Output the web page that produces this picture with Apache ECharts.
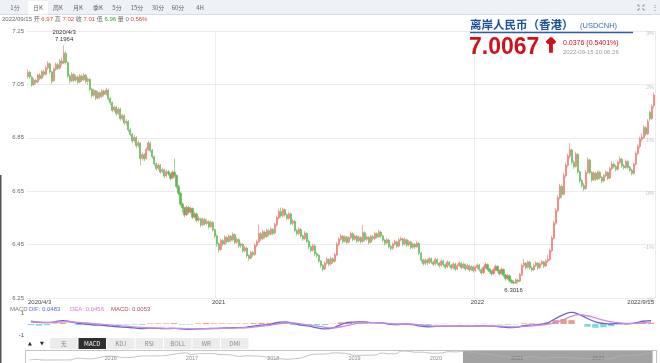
<!DOCTYPE html>
<html><head><meta charset="utf-8">
<script src="https://cdn.jsdelivr.net/npm/echarts@6/dist/echarts.min.js"></script>
<style>html,body{margin:0;padding:0;background:#fff}#c{width:660px;height:363px}</style>
</head><body><div id="c"></div>
<script>
// ---- candles (one per 2 trading days), [open, close, low, high] ----
const k2020 = [
[7.080,7.095,7.071,7.106],[7.096,7.078,7.070,7.101],[7.077,7.048,7.041,7.083],[7.050,7.066,7.043,7.074],[7.065,7.058,7.050,7.072],
[7.059,7.085,7.054,7.091],[7.084,7.072,7.066,7.093],[7.073,7.098,7.068,7.104],[7.097,7.087,7.079,7.105],[7.088,7.112,7.083,7.120],
[7.111,7.128,7.104,7.138],[7.127,7.096,7.090,7.133],[7.097,7.062,7.052,7.101],[7.064,7.108,7.060,7.115],[7.107,7.125,7.100,7.133],
[7.124,7.110,7.103,7.131],[7.111,7.138,7.106,7.146],[7.137,7.129,7.120,7.150],[7.130,7.168,7.126,7.1964],[7.166,7.132,7.124,7.174],
[7.131,7.081,7.073,7.136],[7.082,7.063,7.052,7.090],[7.064,7.088,7.058,7.096],[7.087,7.065,7.057,7.093],[7.066,7.079,7.060,7.087],
[7.078,7.058,7.050,7.084],[7.059,7.082,7.054,7.089],[7.081,7.066,7.059,7.087],[7.067,7.085,7.062,7.093],[7.084,7.061,7.053,7.089],
[7.062,7.070,7.048,7.077],[7.069,7.031,7.024,7.073],[7.032,7.008,6.999,7.037],[7.009,7.027,7.003,7.034],[7.026,6.998,6.991,7.030],
[6.999,7.020,6.994,7.027],[7.019,7.004,6.996,7.024],[7.005,7.026,7.000,7.033],[7.025,7.012,7.005,7.031],[7.013,7.030,7.008,7.038],
[7.029,6.996,6.989,7.034],[6.997,6.981,6.972,7.003],[6.982,6.952,6.945,6.986],[6.953,6.965,6.946,6.972],[6.964,6.940,6.932,6.969],
[6.941,6.958,6.936,6.965],[6.957,6.921,6.914,6.962],[6.922,6.934,6.915,6.941],[6.933,6.905,6.898,6.938],[6.906,6.912,6.896,6.920],
[6.911,6.879,6.872,6.916],[6.880,6.862,6.855,6.886],[6.863,6.838,6.830,6.868],[6.839,6.852,6.833,6.860],[6.851,6.820,6.812,6.856],
[6.821,6.831,6.813,6.839],[6.830,6.772,6.746,6.834],[6.773,6.788,6.764,6.795],[6.787,6.771,6.762,6.793],[6.772,6.806,6.768,6.814],
[6.805,6.831,6.799,6.840],[6.830,6.802,6.794,6.836],[6.803,6.779,6.771,6.808],[6.780,6.752,6.745,6.784],[6.753,6.735,6.727,6.758],
[6.736,6.748,6.729,6.755],[6.747,6.722,6.715,6.752],[6.723,6.731,6.716,6.739],[6.730,6.706,6.699,6.735],[6.707,6.724,6.701,6.731],
[6.723,6.714,6.706,6.730],[6.715,6.698,6.690,6.719],[6.699,6.722,6.694,6.729],[6.721,6.708,6.700,6.772],[6.709,6.668,6.660,6.713],
[6.669,6.642,6.634,6.674],[6.643,6.601,6.593,6.648],[6.602,6.587,6.570,6.609],[6.588,6.561,6.553,6.592],[6.562,6.590,6.557,6.597],
[6.589,6.571,6.563,6.594],[6.572,6.586,6.566,6.593],[6.585,6.552,6.545,6.589],[6.553,6.566,6.547,6.573],[6.565,6.541,6.534,6.570],
[6.542,6.548,6.535,6.556],[6.547,6.523,6.516,6.551],[6.524,6.545,6.519,6.552],[6.544,6.528,6.521,6.549],[6.529,6.537,6.522,6.545],
[6.536,6.516,6.508,6.541],[6.517,6.534,6.511,6.541],[6.533,6.505,6.498,6.538],[6.506,6.482,6.474,6.510],[6.483,6.452,6.441,6.488]
];
const k2021 = [
[6.453,6.431,6.420,6.459],[6.432,6.466,6.427,6.472],[6.465,6.452,6.445,6.471],[6.453,6.478,6.448,6.485],[6.477,6.461,6.454,6.482],
[6.462,6.482,6.457,6.489],[6.481,6.466,6.459,6.486],[6.467,6.489,6.462,6.496],[6.488,6.458,6.451,6.492],[6.459,6.470,6.452,6.477],
[6.469,6.445,6.438,6.474],[6.446,6.452,6.437,6.459],[6.451,6.426,6.419,6.456],[6.427,6.438,6.420,6.445],[6.437,6.408,6.400,6.442],
[6.409,6.398,6.389,6.414],[6.399,6.421,6.394,6.428],[6.420,6.412,6.404,6.426],[6.413,6.448,6.408,6.455],[6.447,6.461,6.440,6.469],
[6.460,6.492,6.455,6.526],[6.491,6.471,6.464,6.497],[6.472,6.498,6.467,6.505],[6.497,6.479,6.472,6.502],[6.480,6.503,6.475,6.510],
[6.502,6.488,6.481,6.508],[6.489,6.508,6.484,6.515],[6.507,6.492,6.485,6.512],[6.493,6.525,6.488,6.532],[6.524,6.551,6.518,6.559],
[6.550,6.575,6.544,6.584],[6.574,6.558,6.551,6.589],[6.559,6.582,6.553,6.588],[6.581,6.561,6.554,6.585],[6.562,6.548,6.541,6.567],
[6.549,6.566,6.543,6.573],[6.565,6.529,6.522,6.570],[6.530,6.538,6.521,6.545],[6.537,6.502,6.495,6.542],[6.503,6.491,6.483,6.508],
[6.492,6.508,6.486,6.515],[6.507,6.482,6.475,6.512],[6.483,6.471,6.464,6.488],[6.472,6.493,6.466,6.500],[6.492,6.462,6.455,6.496],
[6.463,6.441,6.433,6.468],[6.442,6.428,6.420,6.447],[6.429,6.446,6.424,6.453],[6.445,6.415,6.408,6.450],[6.416,6.409,6.400,6.422],
[6.410,6.388,6.381,6.414],[6.389,6.372,6.364,6.393],[6.373,6.358,6.350,6.377],[6.359,6.381,6.354,6.388],[6.380,6.395,6.374,6.402],
[6.394,6.376,6.369,6.399],[6.377,6.398,6.372,6.405],[6.397,6.386,6.379,6.402],[6.387,6.412,6.382,6.419],[6.411,6.452,6.406,6.459],
[6.451,6.471,6.445,6.478],[6.470,6.482,6.464,6.490],[6.481,6.461,6.454,6.486],[6.462,6.479,6.457,6.485],[6.478,6.458,6.451,6.483],
[6.459,6.476,6.454,6.482],[6.475,6.492,6.470,6.499],[6.491,6.469,6.462,6.496],[6.470,6.482,6.464,6.488],[6.481,6.463,6.456,6.486],
[6.464,6.478,6.459,6.484],[6.477,6.461,6.454,6.481],[6.462,6.495,6.457,6.524],[6.494,6.469,6.462,6.499],[6.470,6.478,6.463,6.485],
[6.477,6.458,6.451,6.482],[6.459,6.481,6.454,6.487],[6.480,6.472,6.465,6.486],[6.473,6.492,6.468,6.498],[6.491,6.478,6.471,6.496],
[6.479,6.498,6.474,6.505],[6.497,6.482,6.475,6.503],[6.483,6.466,6.459,6.487],[6.467,6.455,6.447,6.471],[6.456,6.468,6.450,6.475],
[6.467,6.442,6.435,6.472],[6.443,6.435,6.428,6.449],[6.436,6.452,6.431,6.458],[6.451,6.461,6.446,6.468],[6.460,6.444,6.437,6.465],
[6.445,6.468,6.440,6.474],[6.467,6.472,6.461,6.480],[6.471,6.451,6.444,6.476],[6.452,6.469,6.447,6.476],[6.468,6.448,6.441,6.472],
[6.449,6.461,6.443,6.467],[6.460,6.439,6.432,6.465],[6.440,6.452,6.434,6.458],[6.451,6.441,6.434,6.456],[6.442,6.456,6.437,6.463],
[6.455,6.418,6.411,6.459],[6.419,6.392,6.384,6.423],[6.393,6.378,6.371,6.397],[6.379,6.393,6.373,6.399],[6.392,6.381,6.374,6.397],
[6.382,6.398,6.377,6.404],[6.397,6.384,6.377,6.402],[6.385,6.376,6.369,6.390],[6.377,6.395,6.372,6.401],[6.394,6.380,6.373,6.399],
[6.381,6.371,6.364,6.385],[6.372,6.389,6.367,6.395],[6.388,6.374,6.367,6.393],[6.375,6.365,6.358,6.379],[6.366,6.385,6.361,6.391],
[6.384,6.372,6.365,6.389],[6.373,6.362,6.355,6.377],[6.363,6.378,6.358,6.384],[6.377,6.358,6.351,6.382],[6.359,6.372,6.354,6.378],
[6.371,6.381,6.366,6.387],[6.380,6.363,6.356,6.385],[6.364,6.377,6.359,6.383],[6.376,6.359,6.352,6.381],[6.360,6.372,6.355,6.378],
[6.371,6.355,6.348,6.376],[6.356,6.368,6.351,6.374],[6.367,6.352,6.345,6.372],[6.353,6.365,6.348,6.371]
];
const k2022 = [
[6.364,6.374,6.358,6.380],[6.373,6.356,6.349,6.378],[6.357,6.344,6.337,6.361],[6.345,6.365,6.340,6.371],[6.364,6.376,6.359,6.383],
[6.375,6.358,6.351,6.380],[6.359,6.349,6.342,6.363],[6.350,6.341,6.334,6.355],[6.342,6.356,6.337,6.362],[6.355,6.369,6.350,6.375],
[6.368,6.352,6.345,6.373],[6.353,6.341,6.334,6.357],[6.342,6.358,6.337,6.364],[6.357,6.335,6.328,6.361],[6.336,6.322,6.315,6.340],
[6.323,6.334,6.318,6.340],[6.333,6.315,6.308,6.338],[6.316,6.309,6.303,6.321],[6.310,6.306,6.3016,6.318],[6.305,6.318,6.302,6.324],
[6.317,6.312,6.305,6.323],[6.313,6.338,6.309,6.344],[6.337,6.372,6.332,6.378],[6.371,6.381,6.364,6.396],[6.380,6.364,6.357,6.385],
[6.365,6.385,6.360,6.391],[6.384,6.362,6.355,6.389],[6.363,6.355,6.348,6.369],[6.356,6.372,6.351,6.378],[6.371,6.381,6.366,6.387],
[6.380,6.363,6.356,6.385],[6.364,6.378,6.359,6.384],[6.377,6.386,6.372,6.392],[6.385,6.369,6.362,6.390],[6.370,6.389,6.365,6.395],
[6.388,6.395,6.382,6.412],[6.394,6.428,6.390,6.435],[6.427,6.475,6.421,6.483],[6.474,6.531,6.468,6.540],[6.530,6.578,6.523,6.588],
[6.577,6.626,6.570,6.635],[6.625,6.669,6.618,6.678],[6.668,6.638,6.624,6.675],[6.639,6.709,6.634,6.718],[6.708,6.748,6.701,6.757],
[6.747,6.782,6.739,6.791],[6.781,6.805,6.772,6.830],[6.804,6.758,6.750,6.810],[6.759,6.742,6.734,6.766],[6.743,6.789,6.738,6.798],
[6.788,6.722,6.715,6.792],[6.723,6.688,6.680,6.728],[6.689,6.671,6.663,6.696],[6.672,6.659,6.651,6.680],[6.660,6.721,6.655,6.729],
[6.720,6.768,6.714,6.778],[6.767,6.719,6.711,6.772],[6.720,6.692,6.684,6.725],[6.693,6.718,6.688,6.725],[6.717,6.695,6.688,6.722],
[6.696,6.722,6.691,6.729],[6.721,6.701,6.694,6.727],[6.702,6.688,6.681,6.707],[6.689,6.709,6.684,6.715],[6.708,6.721,6.703,6.728],
[6.720,6.698,6.691,6.725],[6.699,6.735,6.694,6.742],[6.734,6.752,6.728,6.763],[6.751,6.742,6.735,6.758],[6.743,6.731,6.724,6.749],
[6.732,6.758,6.727,6.765],[6.757,6.771,6.751,6.780],[6.770,6.744,6.737,6.775],[6.745,6.738,6.731,6.752],[6.739,6.762,6.734,6.769],
[6.761,6.739,6.732,6.766],[6.740,6.728,6.721,6.745],[6.729,6.716,6.709,6.734],[6.717,6.752,6.712,6.758],[6.751,6.792,6.745,6.799],
[6.791,6.818,6.785,6.826],[6.817,6.846,6.810,6.854],[6.845,6.852,6.836,6.866],[6.851,6.889,6.846,6.897],[6.888,6.864,6.857,6.894],
[6.865,6.912,6.860,6.920],[6.945,6.921,6.913,6.952],[6.922,6.968,6.916,6.975],[6.97,7.01,6.96,7.02]
];
const xTickLabels = ['2020/4/3', '2021', '2022', '2022/9/15'];
const rightTickLabels = ['-2%', '-1%', '0%', '1%', '2%', '3%'];
const peakLabel = '2020/4/3\n7.1964';
const lowLabel = '6.3016';

// ---- MACD panel (read at coarser spacing) ----
const macdDIF = [0.25,0.15,0.12,0.2,0.3,0.2,0.05,0.0,-0.1,-0.12,-0.2,-0.25,-0.3,-0.35,-0.42,-0.38,-0.4,-0.42,-0.4,-0.45,
-0.48,-0.45,-0.42,-0.4,-0.38,-0.35,-0.33,-0.3,-0.2,-0.1,-0.05,0.15,0.2,0.05,-0.1,-0.2,-0.35,-0.45,-0.35,-0.05,
0.15,0.2,0.18,0.12,0.1,0.0,-0.05,0.0,-0.05,-0.2,-0.25,-0.22,-0.2,-0.2,-0.18,-0.2,-0.18,-0.17,-0.2,-0.25,
-0.32,-0.3,-0.15,-0.1,-0.05,0.1,0.5,0.85,1.05,0.85,0.5,0.2,0.05,0.0,0.05,0.02,0.1,0.25,0.3];
const macdDEA = [0.18,0.17,0.15,0.16,0.2,0.2,0.15,0.1,0.03,-0.03,-0.1,-0.15,-0.2,-0.26,-0.32,-0.35,-0.37,-0.39,-0.4,-0.41,
-0.43,-0.44,-0.43,-0.42,-0.4,-0.38,-0.36,-0.34,-0.28,-0.2,-0.12,-0.02,0.08,0.1,0.0,-0.1,-0.2,-0.3,-0.35,-0.25,
-0.1,0.05,0.1,0.12,0.1,0.05,0.0,0.0,-0.02,-0.08,-0.15,-0.2,-0.2,-0.2,-0.19,-0.19,-0.19,-0.18,-0.18,-0.2,
-0.24,-0.27,-0.22,-0.16,-0.1,-0.02,0.15,0.4,0.7,0.85,0.75,0.55,0.35,0.2,0.1,0.05,0.05,0.12,0.2];
const macdHist = [-0.1,-0.15,-0.1,0.05,0.1,0.0,-0.1,-0.1,-0.1,-0.05,-0.05,-0.05,-0.05,-0.05,-0.08,0.05,0.05,0.05,0.08,-0.05,
-0.05,0.05,0.08,0.05,0.05,0.04,0.04,0.05,0.08,0.1,0.1,0.15,0.12,-0.1,-0.15,-0.12,-0.1,-0.1,0.02,0.15,
0.2,0.1,0.05,0.02,0.02,-0.05,-0.05,0.02,-0.03,-0.1,-0.08,-0.03,0.02,0.0,0.02,-0.02,0.02,0.02,-0.02,-0.04,
-0.06,-0.03,0.06,0.05,0.04,0.12,0.35,0.45,0.35,0.0,-0.25,-0.35,-0.3,-0.2,-0.05,-0.03,0.05,0.12,0.1];
const macdLegend = {dif: 'DIF: 0.0483', dea: 'DEA: 0.0456', macd: 'MACD: 0.0053'};

// ---- navigator (monthly closes 2015/1 .. 2022/9) ----
const navStartYear = 2015;
const navValues = [
6.22,6.26,6.21,6.20,6.21,6.21,6.21,6.39,6.36,6.33,6.41,6.57,
6.62,6.55,6.46,6.48,6.58,6.65,6.64,6.65,6.68,6.79,6.90,6.97,
6.80,6.87,6.89,6.90,6.80,6.78,6.72,6.59,6.66,6.64,6.61,6.51,
6.29,6.34,6.28,6.34,6.41,6.64,6.82,6.84,6.87,6.97,6.95,6.87,
6.71,6.70,6.72,6.74,6.95,6.87,6.88,7.17,7.14,7.04,7.04,6.96,
6.93,6.99,7.10,7.07,7.15,7.07,6.98,6.85,6.80,6.69,6.57,6.51,
6.47,6.46,6.57,6.47,6.37,6.46,6.47,6.47,6.45,6.39,6.37,6.36,
6.33,6.31,6.36,6.61,6.67,6.70,6.75,6.91,7.01];
const navSelStart = '2020/5';

// ---- toolbar / indicator tabs ----
const periodTabs = ['1分','日K','周K','月K','季K','5分','15分','30分','60分','4H'];
const indicatorTabs = ['无','MACD','KDJ','RSI','BOLL','WR','DMI'];

// ---------- build ----------
const candles = k2020.concat(k2021, k2022);
const cats = [];
k2020.forEach((_, i) => cats.push('2020-' + i));
k2021.forEach((_, i) => cats.push('2021-' + i));
k2022.forEach((_, i) => cats.push('2022-' + i));
const tickIdx = [0, k2020.length, k2020.length + k2021.length, candles.length - 1];
const macdCats = macdDIF.map((_, i) => 'm' + i);
const navCats = navValues.map((_, i) => (navStartYear + Math.floor(i / 12)) + '/' + (i % 12 + 1));

const UP = '#e8776a', DOWN = '#5fb653';
const FONT = 'Liberation Sans, Arial, Noto Sans CJK SC, sans-serif';
const CJK = 'Noto Sans CJK SC, sans-serif';

const graphics = [];
// toolbar
graphics.push({type:'rect', shape:{x:0,y:0,width:660,height:14}, style:{fill:'#eef1f6'}, z:-1});
graphics.push({type:'line', shape:{x1:0,y1:14.5,x2:660,y2:14.5}, style:{stroke:'#d6dce6',lineWidth:1}, z:-1});
graphics.push({type:'rect', shape:{x:28,y:1,width:20,height:13.5}, style:{fill:'#ffffff'}, z:0});
const tabX = [15,38,58,78,98,117,137,158,178,200];
periodTabs.forEach((t, i) => graphics.push({type:'text', x:tabX[i], y:8, style:{text:t, fontSize:6, fill:'#666', align:'center', verticalAlign:'middle', fontFamily:CJK}, z:1}));
graphics.push({type:'polyline', shape:{points:[[638,4],[638,6],[640,6]]}, style:{stroke:'#888',fill:null,lineWidth:0.8}, z:1});
graphics.push({type:'polyline', shape:{points:[[644,4],[644,6],[642,6]]}, style:{stroke:'#888',fill:null,lineWidth:0.8}, z:1});
graphics.push({type:'polyline', shape:{points:[[638,11],[638,9],[640,9]]}, style:{stroke:'#888',fill:null,lineWidth:0.8}, z:1});
graphics.push({type:'polyline', shape:{points:[[644,11],[644,9],[642,9]]}, style:{stroke:'#888',fill:null,lineWidth:0.8}, z:1});
graphics.push({type:'text', x:655, y:7.5, style:{text:'⋮', fontSize:8, fill:'#888', align:'center', verticalAlign:'middle'}, z:1});
// info line
graphics.push({type:'text', x:2, y:19.5, z:1, style:{
  text:'{g|2022/09/15 开 }{r|6.97}{g| 高 }{r|7.02}{g| 收 }{r|7.01}{g| 低 }{gr|6.96}{g| 量 0 }{r|0.56%}',
  verticalAlign:'middle', fontSize:6, fontFamily:FONT,
  rich:{g:{fill:'#666',fontSize:6,fontFamily:FONT}, r:{fill:'#e0463c',fontSize:6,fontFamily:FONT}, gr:{fill:'#2e9e3a',fontSize:6,fontFamily:FONT}}}});
// title block
graphics.push({type:'text', x:470, y:25, z:5, style:{text:'离岸人民币（香港）', fontSize:11.5, fontWeight:'bold', fill:'#1d4f9e', verticalAlign:'middle', fontFamily:CJK}});
graphics.push({type:'text', x:580, y:25.5, z:5, style:{text:'(USDCNH)', fontSize:7.5, fill:'#3868b6', verticalAlign:'middle', fontFamily:FONT}});
graphics.push({type:'line', z:5, shape:{x1:470,y1:32.5,x2:633,y2:32.5}, style:{stroke:'#2f5ea8', lineWidth:1.5}});
graphics.push({type:'text', x:469, y:47.5, z:5, style:{text:'7.0067', fontSize:23, fontWeight:'bold', fill:'#d0101c', verticalAlign:'middle', fontFamily:FONT}});
graphics.push({type:'text', x:551, y:47.5, z:5, style:{text:'↑', fontSize:19, fontWeight:'bold', fill:'#d0101c', stroke:'#d0101c', lineWidth:1.6, align:'center', verticalAlign:'middle', fontFamily:'DejaVu Sans'}});
graphics.push({type:'text', x:563, y:43, z:5, style:{text:'0.0376 (0.5401%)', fontSize:7, fill:'#d0101c', verticalAlign:'middle', fontFamily:FONT}});
graphics.push({type:'text', x:563, y:52, z:5, style:{text:'2022-09-15 20:06:26', fontSize:6, fill:'#9a9a9a', verticalAlign:'middle', fontFamily:FONT}});
// left page border
graphics.push({type:'line', shape:{x1:0.75,y1:175,x2:0.75,y2:363}, style:{stroke:'#555',lineWidth:1.5}, z:1});
// MACD legend
graphics.push({type:'text', x:10, y:309, z:1, style:{text:'MACD', fontSize:6, fill:'#777', verticalAlign:'middle', fontFamily:FONT}});
graphics.push({type:'text', x:29, y:309, z:1, style:{text:macdLegend.dif, fontSize:6, fill:'#4d6fd6', verticalAlign:'middle', fontFamily:FONT}});
graphics.push({type:'text', x:70, y:309, z:1, style:{text:macdLegend.dea, fontSize:6, fill:'#d281d6', verticalAlign:'middle', fontFamily:FONT}});
graphics.push({type:'text', x:111, y:309, z:1, style:{text:macdLegend.macd, fontSize:6, fill:'#a2525e', verticalAlign:'middle', fontFamily:FONT}});
// indicator tabs
graphics.push({type:'text', x:30, y:343.5, z:1, style:{text:'▲', fontSize:5, fill:'#222', align:'center', verticalAlign:'middle', fontFamily:'DejaVu Sans'}});
graphics.push({type:'text', x:42, y:343.5, z:1, style:{text:'▼', fontSize:5, fill:'#222', align:'center', verticalAlign:'middle', fontFamily:'DejaVu Sans'}});
indicatorTabs.forEach((t, i) => {
  const x0 = 50 + i * 28.5;
  const sel = t === 'MACD';
  graphics.push({type:'rect', z:0, shape:{x:x0, y:338, width:27.5, height:11}, style:{fill: sel ? '#2f2f2f' : '#ececec'}});
  graphics.push({type:'text', z:1, x:x0 + 13.75, y:343.5, style:{text:t, fontSize:6, fill: sel ? '#fff' : '#8a8a8a', align:'center', verticalAlign:'middle', fontFamily:CJK}});
});
// navigator frame
graphics.push({type:'rect', z:10, shape:{x:25.5, y:350.5, width:631, height:13}, style:{fill:null, stroke:'#c2c2c2', lineWidth:1}});

const option = {
  animation: false,
  backgroundColor: '#ffffff',
  textStyle: {fontFamily: FONT},
  grid: [
    {left:27, right:5, top:31, height:267},
    {left:27, right:5, top:313, height:22},
    {left:26, right:4, top:350, height:13}
  ],
  xAxis: [
    {type:'category', gridIndex:0, data:cats, boundaryGap:true,
     axisLine:{show:false}, axisTick:{show:false},
     axisLabel:{interval:(i) => tickIdx.indexOf(i) >= 0, formatter:(v, i) => xTickLabels[tickIdx.indexOf(i)],
       fontSize:6, color:'#444', margin:1, alignMinLabel:'left', alignMaxLabel:'right', hideOverlap:false},
     splitLine:{show:true, interval:(i) => i === tickIdx[1] - 1 || i === tickIdx[2] - 1, lineStyle:{color:'#ececec', width:1}}},
    {type:'category', gridIndex:1, data:macdCats, boundaryGap:true, show:false},
    {type:'category', gridIndex:2, data:navCats, boundaryGap:true,
     axisLine:{show:false}, axisTick:{show:false}, splitLine:{show:false},
     axisLabel:{inside:true, margin:2, fontSize:5.5, color:'#8c8c8c',
       interval:(i) => i % 12 === 0 && i > 0, formatter:(v) => v.split('/')[0]}}
  ],
  yAxis: [
    {type:'value', gridIndex:0, min:6.25, max:7.25, interval:0.2, position:'left',
     axisLine:{show:false}, axisTick:{show:false},
     axisLabel:{fontSize:6, color:'#666', margin:3, formatter:(v) => v.toFixed(2)},
     splitLine:{lineStyle:{color:'#ececec', width:1}}},
    {type:'value', gridIndex:0, min:6.25, max:7.25, interval:0.2, position:'right',
     axisLine:{show:false}, axisTick:{show:false}, splitLine:{show:false},
     axisLabel:{inside:true, fontSize:5.5, color:'#c4c4c4', margin:1, verticalAlign:'top',
       formatter:(v) => rightTickLabels[Math.round((v - 6.25) / 0.2)]}},
    {type:'value', gridIndex:1, min:-1, max:1, interval:1,
     axisLine:{show:false}, axisTick:{show:false}, splitLine:{show:false},
     axisLabel:{fontSize:6, color:'#555', margin:3, formatter:(v) => v === 0 ? '' : String(v)}},
    {type:'value', gridIndex:2, min:5.88, max:7.28, show:false}
  ],
  series: [
    {type:'candlestick', xAxisIndex:0, yAxisIndex:0, data:candles, barWidth:1.6,
     itemStyle:{color:UP, color0:DOWN, borderColor:UP, borderColor0:DOWN, borderWidth:0.6},
     markPoint:{symbol:'circle', symbolSize:0.1, itemStyle:{color:'transparent'},
       data:[
         {type:'max', valueDim:'highest', label:{show:true, position:'top', distance:2, formatter:() => peakLabel, fontSize:6, lineHeight:7, color:'#333', align:'center'}},
         {type:'min', valueDim:'lowest', label:{show:true, position:'bottom', distance:3, formatter:() => lowLabel, fontSize:6, color:'#333'}}
       ]}},
    {type:'bar', xAxisIndex:1, yAxisIndex:2, data:macdHist, barWidth:'80%',
     itemStyle:{color:(p) => p.value >= 0 ? 'rgba(230,120,100,0.75)' : 'rgba(80,205,205,0.75)'}},
    {type:'line', xAxisIndex:1, yAxisIndex:2, data:macdDIF, symbol:'none', smooth:true, clip:false,
     lineStyle:{color:'#6b62d8', width:1.3}},
    {type:'line', xAxisIndex:1, yAxisIndex:2, data:macdDEA, symbol:'none', smooth:true, clip:false,
     lineStyle:{color:'#d08ad9', width:1.3}},
    {type:'line', xAxisIndex:2, yAxisIndex:3, data:navValues, symbol:'none', smooth:true,
     lineStyle:{color:'#b2b2b2', width:0.8},
     markArea:{silent:true, itemStyle:{color:'rgba(105,105,105,0.62)'},
       data:[[{xAxis:navSelStart}, {xAxis:navCats[navCats.length - 1]}]]}}
  ],
  graphic: graphics
};
const chart = echarts.init(document.getElementById('c'), null, {renderer:'canvas'});
chart.setOption(option);
</script></body></html>
